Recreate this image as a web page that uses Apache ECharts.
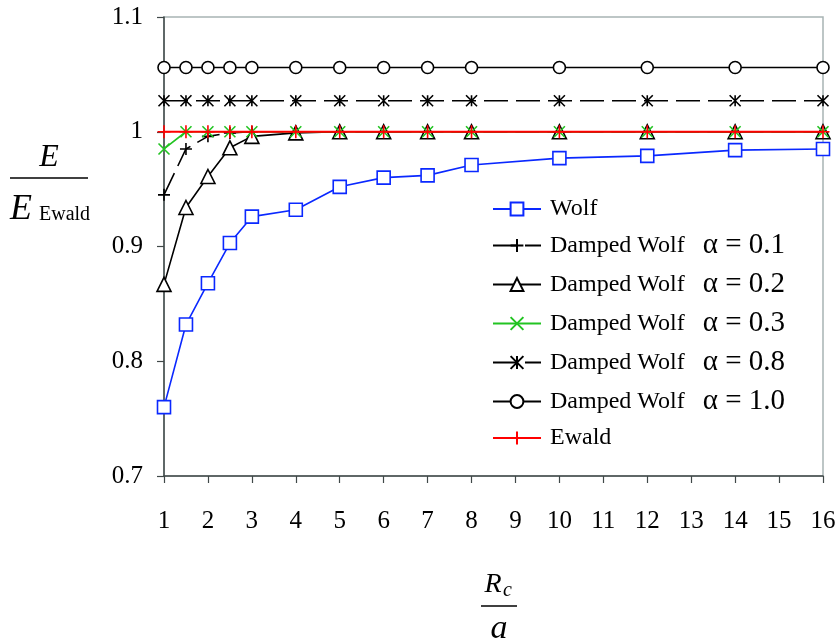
<!DOCTYPE html>
<html>
<head>
<meta charset="utf-8">
<script src="https://cdn.jsdelivr.net/npm/echarts@6/dist/echarts.min.js"></script>
<style>html,body{margin:0;padding:0;background:#fff}#c{width:839px;height:644px}</style>
</head>
<body>
<div id="c"></div>
<script>
const xValues = [1, 1.5, 2, 2.5, 3, 4, 5, 6, 7, 8, 10, 12, 14, 16];
const wolf = [0.760, 0.832, 0.868, 0.903, 0.926, 0.932, 0.952, 0.960, 0.962, 0.971, 0.977, 0.979, 0.984, 0.985];
const damped01 = [0.945, 0.985, 0.996, 0.999, 1.0, 1.0, 1.0, 1.0, 1.0, 1.0, 1.0, 1.0, 1.0, 1.0];
const damped02 = [0.867, 0.934, 0.961, 0.986, 0.996, 0.999, 1.0, 1.0, 1.0, 1.0, 1.0, 1.0, 1.0, 1.0];
const damped03 = [0.985, 1.0, 1.0, 1.0, 1.0, 1.0, 1.0, 1.0, 1.0, 1.0, 1.0, 1.0, 1.0, 1.0];
const damped08 = [1.027, 1.027, 1.027, 1.027, 1.027, 1.027, 1.027, 1.027, 1.027, 1.027, 1.027, 1.027, 1.027, 1.027];
const damped10 = [1.056, 1.056, 1.056, 1.056, 1.056, 1.056, 1.056, 1.056, 1.056, 1.056, 1.056, 1.056, 1.056, 1.056];
const ewald = [1.0, 1.0, 1.0, 1.0, 1.0, 1.0, 1.0, 1.0, 1.0, 1.0, 1.0, 1.0, 1.0, 1.0];
const seriesNames = ['Wolf', 'Damped Wolf|α = 0.1', 'Damped Wolf|α = 0.2', 'Damped Wolf|α = 0.3', 'Damped Wolf|α = 0.8', 'Damped Wolf|α = 1.0', 'Ewald'];
const yTicks = [0.7, 0.8, 0.9, 1.0, 1.1];

const zip = arr => xValues.map((x, i) => [x, arr[i]]);
const SERIF = 'Liberation Serif';
const PLUS = 'path://M5,0 L5,10 M0,5 L10,5';
const CROSS = 'path://M0,0 L10,10 M10,0 L0,10';
const STAR = 'path://M0,0 L10,10 M10,0 L0,10 M5,0 L5,10';

function mk(name, data, color, symbol, size, dashed, fill, z, w) {
  return {
    name, type: 'line', data: zip(data), symbol, symbolSize: size, z: z,
    lineStyle: { color, width: w || 1.6, type: dashed ? [24, 8] : 'solid' },
    itemStyle: { color: fill, borderColor: color, borderWidth: 1.6 },
    emphasis: { disabled: true }, animation: false
  };
}

const chart = echarts.init(document.getElementById('c'), null, { renderer: 'canvas' });
chart.setOption({
  animation: false,
  backgroundColor: '#fff',
  grid: { left: 164, right: 16, top: 17, bottom: 168, show: true, borderColor: '#a8b4b4', borderWidth: 1.5, backgroundColor: 'transparent' },
  xAxis: {
    type: 'value', min: 1, max: 16, interval: 1,
    axisLine: { lineStyle: { color: '#404848', width: 1.5 } },
    axisTick: { show: true, length: 7, inside: false, lineStyle: { color: '#404848', width: 1.2 } },
    axisLabel: { margin: 33, fontFamily: SERIF, fontSize: 25, color: '#000' },
    splitLine: { show: false }
  },
  yAxis: {
    type: 'value', min: yTicks[0], max: yTicks[yTicks.length - 1], interval: 0.1,
    axisLine: { show: true, lineStyle: { color: '#404848', width: 1.5 } },
    axisTick: { show: true, length: 7, inside: false, lineStyle: { color: '#404848', width: 1.2 } },
    axisLabel: { margin: 21, fontFamily: SERIF, fontSize: 25, color: '#000', formatter: v => String(+(+v).toFixed(1)) },
    splitLine: { show: false }
  },
  legend: {
    orient: 'vertical', left: 487, top: 192,
    itemWidth: 48, itemHeight: 16, itemGap: 10,
    data: seriesNames,
    backgroundColor: '#fff',
    formatter: name => {
      const p = name.split('|');
      return p.length > 1 ? '{a|' + p[0] + '}{b|' + p[1] + '}' : '{a|' + p[0] + '}';
    },
    textStyle: {
      color: '#000', fontFamily: SERIF, fontSize: 24,
      rich: {
        a: { fontFamily: SERIF, fontSize: 24, color: '#000', lineHeight: 26, padding: [0, 0, 0, 4] },
        b: { fontFamily: SERIF, fontSize: 29, color: '#000', lineHeight: 26, padding: [0, 0, 0, 18] }
      }
    }
  },
  series: [
    mk(seriesNames[0], wolf, '#0a28ff', 'rect', 13, false, '#fff', 3),
    mk(seriesNames[1], damped01, '#000', PLUS, 12, true, '#000', 3),
    mk(seriesNames[2], damped02, '#000', 'triangle', 14, false, '#fff', 3),
    mk(seriesNames[3], damped03, '#22c422', CROSS, 11, false, '#22c422', 3),
    mk(seriesNames[4], damped08, '#000', STAR, 11, true, '#000', 3),
    mk(seriesNames[5], damped10, '#000', 'circle', 12, false, '#fff', 3),
    mk(seriesNames[6], ewald, '#ff0000', PLUS, 13, false, '#ff0000', 4, 2)
  ],
  graphic: [
    { type: 'text', x: 49, y: 158, style: { text: 'E', font: 'italic 32px "Liberation Serif"', fill: '#000', textAlign: 'center', textVerticalAlign: 'middle' } },
    { type: 'line', shape: { x1: 10, y1: 178, x2: 88, y2: 178 }, style: { stroke: '#000', lineWidth: 1.5 } },
    { type: 'text', x: 10, y: 210, style: { text: 'E', font: 'italic 36px "Liberation Serif"', fill: '#000', textAlign: 'left', textVerticalAlign: 'middle' } },
    { type: 'text', x: 39, y: 215, style: { text: 'Ewald', font: '20px "Liberation Serif"', fill: '#000', textAlign: 'left', textVerticalAlign: 'middle' } },
    { type: 'text', x: 493, y: 585, style: { text: 'R', font: 'italic 28px "Liberation Serif"', fill: '#000', textAlign: 'center', textVerticalAlign: 'middle' } },
    { type: 'text', x: 503, y: 591, style: { text: 'c', font: 'italic 20px "Liberation Serif"', fill: '#000', textAlign: 'left', textVerticalAlign: 'middle' } },
    { type: 'line', shape: { x1: 481, y1: 606, x2: 517, y2: 606 }, style: { stroke: '#000', lineWidth: 1.5 } },
    { type: 'text', x: 499, y: 629, style: { text: 'a', font: 'italic 34px "Liberation Serif"', fill: '#000', textAlign: 'center', textVerticalAlign: 'middle' } }
  ]
});
</script>
</body>
</html>
